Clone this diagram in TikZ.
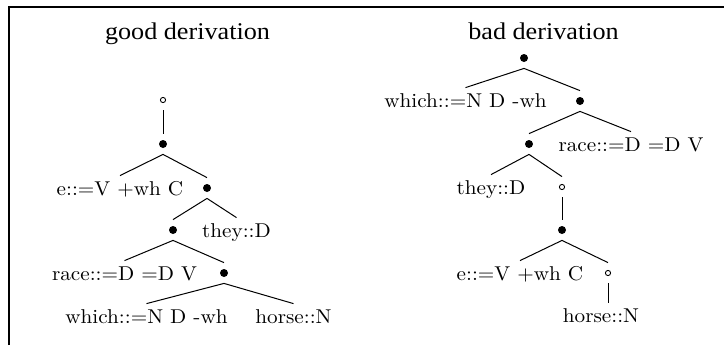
\documentclass[tikz,border=0pt]{standalone}
\usepackage{fontspec}
\newfontfamily\treefont{lmroman10-regular}[Extension=.otf,FakeStretch=1.06]
\newfontfamily\titlefont{Liberation Serif}[FakeStretch=1.09]

\begin{document}
\begin{tikzpicture}[
x=0.5pt,y=-0.5pt,
dot/.style={circle,minimum size=10pt,inner sep=0pt,
path picture={\fill (path picture bounding box.center) circle (2pt);}},
hollow/.style={circle,minimum size=10pt,inner sep=0pt,
path picture={\draw[line width=0.45pt] (path picture bounding box.center) circle (1.3pt);}},
leaf/.style={anchor=base,inner sep=2.5pt,text height=7pt,text depth=2pt,
font=\treefont\fontsize{10}{12}\selectfont},
heading/.style={anchor=base,inner sep=0pt,font=\titlefont\fontsize{12}{14}\selectfont},
branch/.style={line width=0.5pt}
]
\useasboundingbox (0,0) rectangle (724,345);
\draw[line width=1pt] (9,345) -- (9,7) -- (724,7);

\node[heading] (gt) at (187.5,39) {good derivation};
\node[hollow] (g0) at (163,100) {};
\node[dot] (g1) at (163,144) {};
\node[leaf] (g2) at (120,195) {e::=V +wh C};
\node[dot] (g3) at (207,188) {};
\node[dot] (g4) at (173,230) {};
\node[leaf] (g5) at (236.5,237) {they::D};
\node[leaf] (g6) at (124.5,280) {race::=D =D V};
\node[dot] (g7) at (224,273) {};
\node[leaf] (g8) at (146.5,323) {which::=N D -wh};
\node[leaf] (g9) at (293.5,323) {horse::N};
\draw[branch] (g0.south) -- (g1.north);
\draw[branch] (g1.south) -- (g2.north); \draw[branch] (g1.south) -- (g3.north);
\draw[branch] (g3.south) -- (g4.north); \draw[branch] (g3.south) -- (g5.north);
\draw[branch] (g4.south) -- (g6.north); \draw[branch] (g4.south) -- (g7.north);
\draw[branch] (g7.south) -- (g8.north); \draw[branch] (g7.south) -- (g9.north);

\node[heading] (bt) at (543.5,39) {bad derivation};
\node[dot] (b0) at (524,58) {};
\node[leaf] (b1) at (465.5,107) {which::=N D -wh};
\node[dot] (b2) at (580,101) {};
\node[dot] (b3) at (529,144) {};
\node[leaf] (b4) at (631,151) {race::=D =D V};
\node[leaf] (b5) at (491,194) {they::D};
\node[hollow] (b6) at (562,187) {};
\node[dot] (b7) at (562,230) {};
\node[leaf] (b8) at (520,280) {e::=V +wh C};
\node[hollow] (b9) at (608,273) {};
\node[leaf] (b10) at (601,322) {horse::N};
\draw[branch] (b0.south) -- (b1.north); \draw[branch] (b0.south) -- (b2.north);
\draw[branch] (b2.south) -- (b3.north); \draw[branch] (b2.south) -- (b4.north);
\draw[branch] (b3.south) -- (b5.north); \draw[branch] (b3.south) -- (b6.north);
\draw[branch] (b6.south) -- (b7.north);
\draw[branch] (b7.south) -- (b8.north); \draw[branch] (b7.south) -- (b9.north);
\draw[branch] (b9.south) -- (b9.south |- b10.north);
\end{tikzpicture}
\end{document}
